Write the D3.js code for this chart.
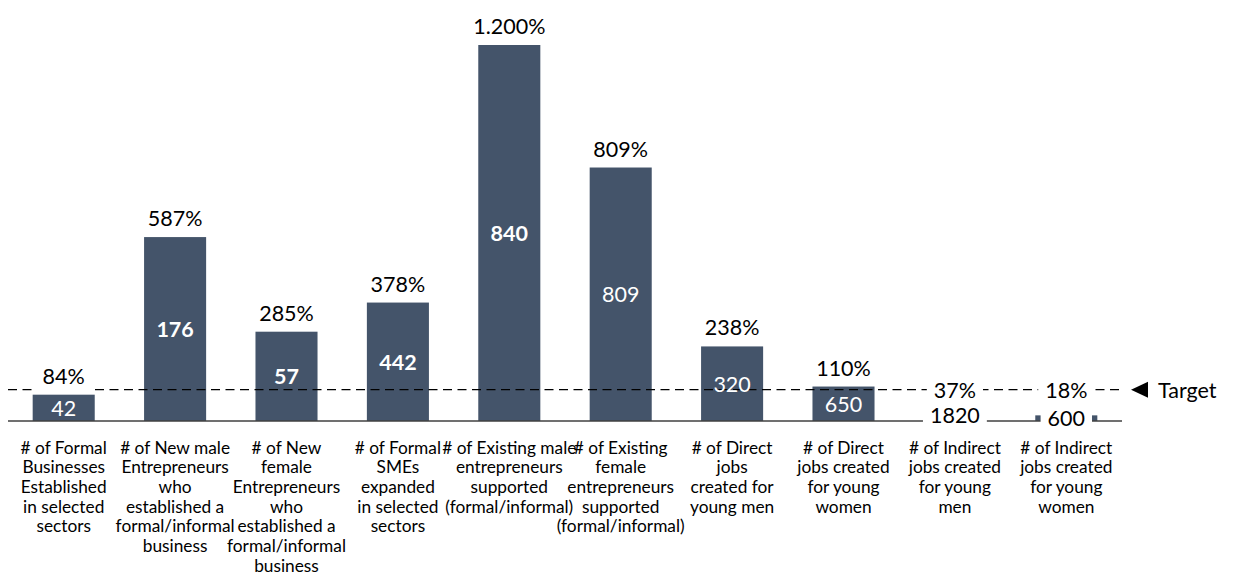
<!DOCTYPE html>
<html><head><meta charset="utf-8">
<script src="https://cdn.jsdelivr.net/npm/d3@7"></script>
<style>
body{margin:0;background:#fff;}
svg{display:block;font-family:Lato,"Open Sans",sans-serif;}
</style></head>
<body>
<svg id="chart" width="1234" height="576"></svg>
<script>
// ---- data ----
const categories = [
  ["# of Formal","Businesses","Established","in selected","sectors"],
  ["# of New male","Entrepreneurs","who","established a","formal/informal","business"],
  ["# of New","female","Entrepreneurs","who","established a","formal/informal","business"],
  ["# of Formal","SMEs","expanded","in selected","sectors"],
  ["# of Existing male","entrepreneurs","supported","(formal/informal)"],
  ["# of Existing","female","entrepreneurs","supported","(formal/informal)"],
  ["# of Direct","jobs","created for","young men"],
  ["# of Direct","jobs created","for young","women"],
  ["# of Indirect","jobs created","for young","men"],
  ["# of Indirect","jobs created","for young","women"]
];
const achievement = [84, 587, 285, 378, 1200, 809, 238, 110, 37, 18];       // % of target
const achievementLabels = ["84%","587%","285%","378%","1.200%","809%","238%","110%","37%","18%"];
const actualValues = [42, 176, 57, 442, 840, 809, 320, 650, 1820, 600];
const boldValue = [false, true, true, true, true, false, false, false, false, false];
const targetValue = 100;
const yTicks = [0, 1200];

// ---- layout ----
const svg = d3.select("#chart");
const barColor = "#44546A";
const x = d3.scaleBand().domain(d3.range(categories.length)).range([8, 1122]).paddingInner(0.443).paddingOuter(0.2215);
const y = d3.scaleLinear().domain(d3.extent(yTicks)).range([421, 45]);
const numFont = 21.5, catFont = 17.3;

// bars
svg.append("g").selectAll("rect").data(achievement).join("rect")
  .attr("x", (d,i)=>x(i)).attr("width", x.bandwidth())
  .attr("y", d=>y(d)).attr("height", d=>y(0)-y(d))
  .attr("fill", barColor);

// axis baseline
svg.append("line").attr("x1", 8).attr("x2", 1122).attr("y1", y(0)).attr("y2", y(0))
  .attr("stroke", "#404040").attr("stroke-width", 1.5);

// target dashed line
svg.append("line").attr("x1", 8).attr("x2", 1122).attr("y1", y(targetValue)).attr("y2", y(targetValue))
  .attr("stroke", "#000").attr("stroke-width", 1.3).attr("stroke-dasharray", "9,5.5");

// percent labels with white boxes
const pctY = d => Math.min(y(d) - 19, y(targetValue));
const pg = svg.append("g");
achievement.forEach((d,i)=>{
  const g = pg.append("g");
  const t = g.append("text").attr("x", x(i)+x.bandwidth()/2).attr("y", pctY(d))
    .attr("text-anchor","middle").attr("dominant-baseline","central")
    .attr("font-size", numFont).attr("fill","#000").text(achievementLabels[i]);
  const w = t.node().getComputedTextLength();
  g.insert("rect","text").attr("x", x(i)+x.bandwidth()/2 - w/2 - 7).attr("width", w+14)
    .attr("y", pctY(d)-17).attr("height", 34).attr("fill","#fff");
});

// inner value labels
const ig = svg.append("g");
actualValues.forEach((v,i)=>{
  const d = achievement[i];
  const cy = (y(d)+y(0))/2;
  const small = (y(0)-y(d)) < 20;
  const g = ig.append("g");
  const t = g.append("text").attr("x", x(i)+x.bandwidth()/2).attr("y", cy)
    .attr("text-anchor","middle").attr("dominant-baseline","central")
    .attr("font-size", numFont).attr("font-weight", boldValue[i] ? "bold" : "normal")
    .attr("fill", small ? "#000" : "#fff").text(v);
  if (small) {
    const w = t.node().getComputedTextLength();
    g.insert("rect","text").attr("x", x(i)+x.bandwidth()/2 - w/2 - 7).attr("width", w+14)
      .attr("y", cy-12).attr("height", 24).attr("fill","#fff");
  }
});

// category labels
const cg = svg.append("g");
categories.forEach((lines,i)=>{
  const t = cg.append("text").attr("text-anchor","middle").attr("font-size", catFont).attr("fill","#000");
  lines.forEach((ln,j)=>{
    t.append("tspan").attr("x", x(i)+x.bandwidth()/2).attr("y", 447 + j*19.7)
      .attr("dominant-baseline","central").text(ln);
  });
});

// Target marker
const ty = y(targetValue);
svg.append("path").attr("d", `M1131,${ty} L1148,${ty-8} L1148,${ty+8} Z`).attr("fill","#000");
svg.append("text").attr("x", 1158).attr("y", ty).attr("dominant-baseline","central")
  .attr("font-size", numFont).attr("fill","#000").text("Target");
</script>
</body></html>
